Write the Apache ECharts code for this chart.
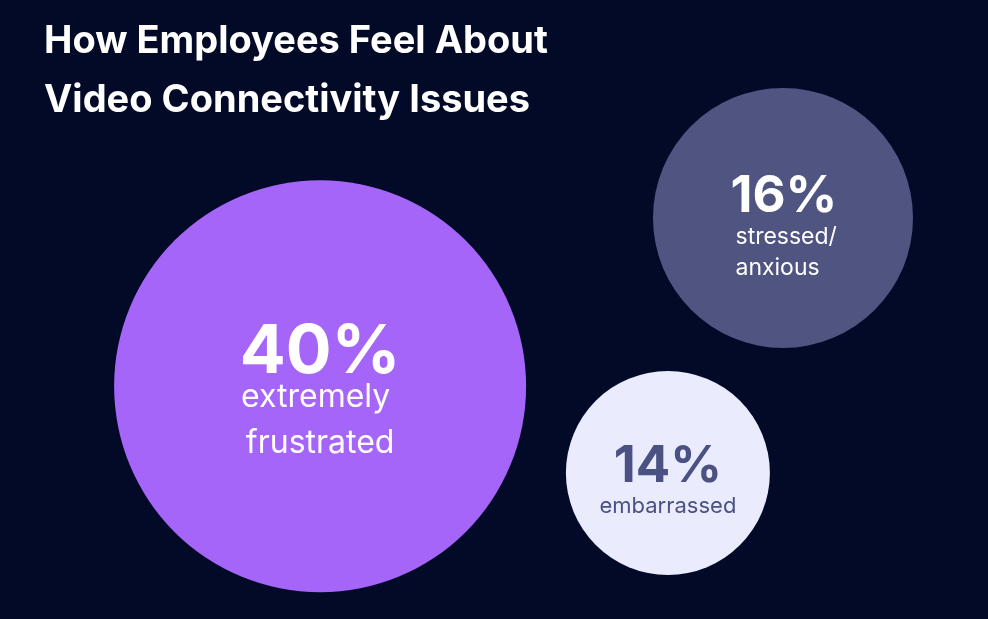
<!DOCTYPE html>
<html>
<head>
<meta charset="utf-8">
<script src="https://cdn.jsdelivr.net/npm/echarts@6/dist/echarts.min.js"></script>
<style>
  html, body { margin: 0; padding: 0; background: #020a27; }
  #chart { width: 988px; height: 619px; }
</style>
</head>
<body>
<div id="chart"></div>
<script>
// data
const categories = ["extremely \nfrustrated", "stressed/\nanxious", "embarrassed"];
const shares = [40, 16, 14];
// bubble layout coordinates (0-100 on both axes)
const bubbleX = [32.4, 79.25, 67.6];
const bubbleY = [37.6, 64.8, 23.6];

// look of each bubble
const diameters = [412, 260, 204];
const fills = ["#a665f9", "#4f5481", "#eaecfe"];
const inks = ["#ffffff", "#ffffff", "#4c5183"];
const pctSize = [68, 51, 51];
const pctLine = [45, 49, 49];
const subSize = [32, 23, 22];
const subLine = [46, 31, 30];
const alignMode = ["center", "left", "center"];
const labelShift = [[0, 12], [6, 10], [0, 9]];

const myChart = echarts.init(document.getElementById("chart"));

const seriesData = shares.map((v, i) => {
  const lines = categories[i].split("\n");
  const w = alignMode[i] === "left" ? 112 : undefined;
  return {
    value: [bubbleX[i], bubbleY[i], v],
    name: categories[i],
    symbolSize: diameters[i],
    itemStyle: { color: fills[i], opacity: 1 },
    label: {
      show: true,
      position: "inside",
      offset: labelShift[i],
      formatter: () =>
        "{p|" + v + "%}\n" + lines.map((l) => "{s|" + l + "}").join("\n"),
      rich: {
        p: {
          fontFamily: "Inter",
          fontWeight: "bold",
          fontSize: pctSize[i],
          lineHeight: pctLine[i],
          color: inks[i],
          width: w,
          align: alignMode[i],
        },
        s: {
          fontFamily: "Inter",
          fontSize: subSize[i],
          lineHeight: subLine[i],
          color: inks[i],
          width: w,
          align: alignMode[i],
          padding: alignMode[i] === "left" ? [0, 0, 0, 5] : 0,
        },
      },
    },
  };
});

const option = {
  backgroundColor: "#020a27",
  animation: false,
  title: {
    text: "How Employees Feel About\nVideo Connectivity Issues",
    left: 39,
    top: 7,
    textStyle: {
      color: "#ffffff",
      fontFamily: "Inter",
      fontWeight: "bold",
      fontSize: 38,
      lineHeight: 59,
    },
  },
  grid: { left: 0, right: 0, top: 0, bottom: 0 },
  xAxis: { type: "value", min: 0, max: 100, show: false },
  yAxis: { type: "value", min: 0, max: 100, show: false },
  series: [
    {
      type: "scatter",
      symbol: "circle",
      data: seriesData,
      emphasis: { disabled: true },
    },
  ],
};

myChart.setOption(option, true);
</script>
</body>
</html>
